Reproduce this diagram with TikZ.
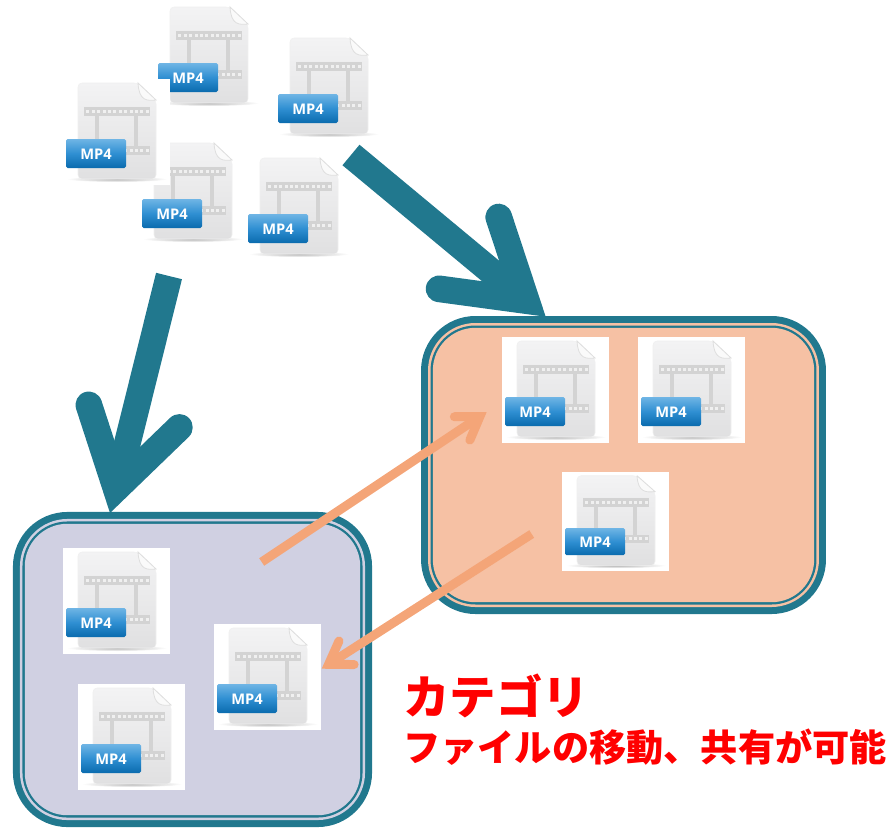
\documentclass[tikz,border=0pt]{standalone}
\usepackage{fontspec}
\setsansfont{Open Sans}
\newfontfamily\cjkfont{Noto Sans CJK JP}
\usetikzlibrary{arrows.meta}
\definecolor{framecol}{HTML}{21788E}
\definecolor{lavcol}{HTML}{D0D0E2}
\definecolor{peachcol}{HTML}{F6C1A4}
\definecolor{movecol}{HTML}{F4A578}
\definecolor{barcol}{HTML}{D3D3D3}
\definecolor{badgetop}{HTML}{6FB5E5}
\definecolor{badgemid}{HTML}{2F8FD2}
\definecolor{badgelow}{HTML}{0A6BAE}
\definecolor{pagetop}{HTML}{F3F3F4}
\definecolor{pagelow}{HTML}{E0E0E1}

\tikzset{
	groupbox/.style={rounded corners=32pt, inner sep=0pt, outer sep=0pt,
		preaction={draw=framecol, line width=17.7pt},
		preaction={draw=#1, line width=7.2pt},
		preaction={draw=framecol, line width=3.45pt},
		fill=#1},
	bigarrow/.style={draw=framecol, line width=20pt,
		-{Straight Barb[length=56pt, width=70pt, line cap=round, line join=miter]}},
	movearrow/.style={draw=movecol, line width=6.75pt,
		-{Straight Barb[length=16pt, width=21pt, line cap=round, line join=miter]}},
	badgelabel/.style={text=white, font=\sffamily\bfseries\fontsize{11}{12}\selectfont, inner sep=0pt},
	mpfile/.pic={
		\fill[white] (0,0) rectangle (107,106);
		\shade[inner color=black!30, outer color=white] (54,100) ellipse [x radius=50, y radius=3];
		\draw[draw=black!6, top color=pagetop, bottom color=pagelow, rounded corners=3pt]
			(15,4) -- (75,4) -- (93,21) -- (93,100) -- (15,100) -- cycle;
		\draw[draw=black!13, fill=black!2, line width=.6pt]
			(75,4) -- (93,21) .. controls (84,22) and (76,22) .. cycle;
		\fill[barcol] (21,28) rectangle (87,37);
		\fill[barcol] (21,67) rectangle (87,76);
		\fill[barcol] (32,37) rectangle (36,67);
		\fill[barcol] (71,37) rectangle (75,67);
		\foreach \i in {0,...,11} {
			\fill[black!6] (23.3+5.4*\i,31) rectangle +(3,3);
			\fill[black!6] (23.3+5.4*\i,70) rectangle +(3,3);
		}
		\shade[top color=badgetop, bottom color=badgelow, middle color=badgemid, rounded corners=1.2pt]
			(3,60) rectangle (63,89);
		\node[badgelabel] (-label) at (33,75) {MP4};
	}
}

\begin{document}
\begin{tikzpicture}[x=.75pt, y=-.75pt]
	\useasboundingbox (0,0) rectangle (895,828);

	\pic (fileA) at (155,3) {mpfile};
	\pic (fileD) at (139,139) {mpfile};
	\pic (fileC) at (275,34) {mpfile};
	\pic (fileE) at (245,154) {mpfile};
	\pic (fileB) at (63,79) {mpfile};

	\node[groupbox=peachcol, minimum width=286pt, minimum height=205.8pt] (boxpeach) at (623.5,465) {};
	\node[groupbox=lavcol, minimum width=251.6pt, minimum height=218.6pt] (boxlav) at (192.5,669.5) {};

	\pic (peachA) at (502,337) {mpfile};
	\pic (peachB) at (638,337) {mpfile};
	\pic[yscale=.934] (peachC) at (562,472) {mpfile};
	\pic (lavA) at (63,548) {mpfile};
	\pic (lavB) at (78,684) {mpfile};
	\pic (lavC) at (214,624) {mpfile};

	\coordinate (startlav) at (169,276);
	\coordinate (tiplav) at (110,513);
	\coordinate (startpeach) at (351,155);
	\coordinate (tippeach) at (545.7,316.7);
	\draw[bigarrow] (startlav) -- (tiplav);
	\draw[bigarrow] (startpeach) -- (tippeach);

	\coordinate (movestartA) at (261.7,562);
	\coordinate (moveendA) at (486.7,412);
	\coordinate (movestartB) at (531.7,534);
	\coordinate (moveendB) at (321.7,668.7);
	\draw[movearrow] (movestartA) -- (moveendA);
	\draw[movearrow] (movestartB) -- (moveendB);

	\node[text=red, font=\cjkfont\bfseries\fontsize{34.8}{36}\selectfont, inner sep=0pt, anchor=west] (title) at (403,696) {カテゴリ};
	\node[text=red, font=\cjkfont\bfseries\fontsize{27.9}{30}\selectfont, inner sep=0pt, anchor=west] (subtitle) at (403,747) {ファイルの移動、共有が可能};
\end{tikzpicture}
\end{document}
